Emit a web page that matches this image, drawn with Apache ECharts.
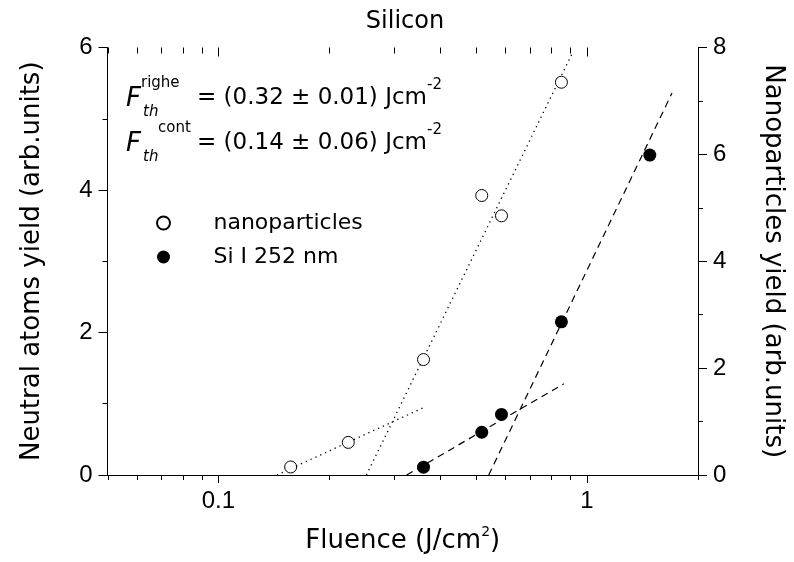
<!DOCTYPE html>
<html>
<head>
<meta charset="utf-8">
<script src="https://cdn.jsdelivr.net/npm/echarts@6/dist/echarts.min.js"></script>
<style>
  html, body { margin: 0; padding: 0; background: #fff; }
  #chart { width: 794px; height: 562px; }
</style>
</head>
<body>
<div id="chart"></div>
<script>
// Measured yields versus laser fluence (log scale)
const fluenceNano = [0.157, 0.225, 0.36, 0.518, 0.586, 0.852];
const yieldNano   = [0.15, 0.61, 2.16, 5.23, 4.85, 7.35];   // right axis
const fluenceSi   = [0.36, 0.518, 0.586, 0.852, 1.48];
const yieldSi     = [0.11, 0.60, 0.85, 2.15, 4.49];         // left axis

// Linear fits in log(fluence): end points of each fitted segment
const nanoFitLowX  = [0.144, 0.365];
const nanoFitLowY  = [0, 1.28];
const nanoFitHighX = [0.252, 0.91];
const nanoFitHighY = [0, 7.88];
const siFitLowX    = [0.324, 0.865];
const siFitLowY    = [0, 1.28];
const siFitHighX   = [0.541, 1.70];
const siFitHighY   = [0, 5.36];

// Axis ranges and tick values
const xRange = [0.05, 2];
const xMajorTicks = [0.1, 1];
const xMinorTicks = [0.05, 0.06, 0.07, 0.08, 0.09, 0.2, 0.3, 0.4, 0.5, 0.6, 0.7, 0.8, 0.9, 2];
const yLeftRange = [0, 6];
const yRightRange = [0, 8];
const yStep = 2;

const zip = (xs, ys) => xs.map((x, i) => [x, ys[i]]);

const LABEL_FONT = '"Liberation Sans", Arial, sans-serif';
const TEXT_FONT = '"DejaVu Sans", sans-serif';

const tickData = xMajorTicks.map(v => [v, 1]).concat(xMinorTicks.map(v => [v, 0]));

const chart = echarts.init(document.getElementById('chart'), null, { renderer: 'canvas' });

const formulaLine = (y, supName, supX, value) => [
  { type: 'text', x: 126, y: y + 1, style: { text: 'F', fontSize: 26, fontStyle: 'italic', fontFamily: TEXT_FONT, fill: '#000', verticalAlign: 'middle', textVerticalAlign: 'middle' } },
  { type: 'text', x: supX, y: y - 15, style: { text: supName, fontSize: 15, fontFamily: TEXT_FONT, fill: '#000', verticalAlign: 'middle', textVerticalAlign: 'middle' } },
  { type: 'text', x: 143, y: y + 14, style: { text: 'th', fontSize: 15, fontStyle: 'italic', fontFamily: TEXT_FONT, fill: '#000', verticalAlign: 'middle', textVerticalAlign: 'middle' } },
  { type: 'text', x: 197, y: y, style: {
      text: '{m|= (' + value + ') Jcm}{s|-2}',
      fontFamily: TEXT_FONT, fill: '#000', verticalAlign: 'middle', textVerticalAlign: 'middle',
      rich: {
        m: { fontSize: 23, lineHeight: 40, fontFamily: TEXT_FONT, color: '#000' },
        s: { fontSize: 15, lineHeight: 12, verticalAlign: 'top', fontFamily: TEXT_FONT, color: '#000' }
      }
  } }
];

const option = {
  backgroundColor: '#fff',
  animation: false,
  title: {
    text: 'Silicon',
    left: 400,
    textAlign: 'center',
    top: 5,
    textStyle: { fontSize: 24, fontWeight: 'normal', fontFamily: TEXT_FONT, color: '#000' }
  },
  grid: { left: 107.5, right: 92.5, top: 47.5, bottom: 80.3, containLabel: false },
  legend: {
    orient: 'vertical',
    left: 156,
    top: 211,
    padding: 0,
    itemWidth: 90,
    itemHeight: 13,
    itemGap: 10,
    data: ['nanoparticles', 'Si I 252 nm'],
    textStyle: { fontSize: 22, lineHeight: 24, fontFamily: TEXT_FONT, color: '#000' }
  },
  xAxis: [
    {
      type: 'log', logBase: 10, min: xRange[0], max: xRange[1], position: 'bottom',
      axisLine: { lineStyle: { color: '#000', width: 1 } },
      axisTick: { show: false },
      splitLine: { show: false },
      axisLabel: {
        fontSize: 24, fontFamily: LABEL_FONT, color: '#000', margin: 14,
        showMinLabel: false, showMaxLabel: false,
        formatter: v => String(+v.toPrecision(6))
      },
      name: 'Fluence (J/cm{sup|2})',
      nameLocation: 'middle',
      nameGap: 50,
      nameTextStyle: {
        fontSize: 26, fontFamily: TEXT_FONT, color: '#000', lineHeight: 32,
        rich: { sup: { fontSize: 14, lineHeight: 14, verticalAlign: 'top', fontFamily: TEXT_FONT, color: '#000' } }
      }
    },
    {
      type: 'log', logBase: 10, min: xRange[0], max: xRange[1], position: 'top',
      axisLine: { lineStyle: { color: '#000', width: 1 } },
      axisTick: { show: false }, axisLabel: { show: false }, splitLine: { show: false }
    }
  ],
  yAxis: [
    {
      type: 'value', position: 'left', min: yLeftRange[0], max: yLeftRange[1], interval: yStep,
      axisLine: { show: true, lineStyle: { color: '#000', width: 1 } },
      axisTick: { show: true, inside: false, length: 9, lineStyle: { color: '#000' } },
      minorTick: { show: true, splitNumber: 2, length: 5, lineStyle: { color: '#000' } },
      splitLine: { show: false },
      axisLabel: { fontSize: 24, fontFamily: LABEL_FONT, color: '#000', margin: 15 },
      name: 'Neutral atoms yield (arb.units)',
      nameLocation: 'middle', nameRotate: 90, nameGap: 62,
      nameTextStyle: { fontSize: 26, fontFamily: TEXT_FONT, color: '#000' }
    },
    {
      type: 'value', position: 'right', min: yRightRange[0], max: yRightRange[1], interval: yStep,
      axisLine: { show: true, lineStyle: { color: '#000', width: 1 } },
      axisTick: { show: true, inside: false, length: 9, lineStyle: { color: '#000' } },
      minorTick: { show: true, splitNumber: 2, length: 5, lineStyle: { color: '#000' } },
      splitLine: { show: false },
      axisLabel: { fontSize: 24, fontFamily: LABEL_FONT, color: '#000', margin: 15 },
      name: 'Nanoparticles yield (arb.units)',
      nameLocation: 'middle', nameRotate: -90, nameGap: 62,
      nameTextStyle: { fontSize: 26, fontFamily: TEXT_FONT, color: '#000' }
    }
  ],
  graphic: formulaLine(98, 'righe', 141, '0.32 ± 0.01').concat(formulaLine(143, 'cont', 158, '0.14 ± 0.06')),
  series: [
    // log-axis ticks: outward on the bottom frame, inward on the top frame
    {
      type: 'custom', name: 'ticks', xAxisIndex: 0, yAxisIndex: 0, silent: true, clip: false,
      data: tickData,
      renderItem: (params, api) => {
        const x = Math.round(api.coord([api.value(0), 0])[0]) + 0.5;
        const cs = params.coordSys;
        const len = api.value(1) ? 8 : 5;
        const yb = cs.y + cs.height, yt = cs.y;
        return {
          type: 'group',
          children: [
            { type: 'line', shape: { x1: x, y1: yb, x2: x, y2: yb + len }, style: { stroke: '#000', lineWidth: 1 } },
            { type: 'line', shape: { x1: x, y1: yt, x2: x, y2: yt + len + 1 }, style: { stroke: '#000', lineWidth: 1 } }
          ]
        };
      }
    },
    {
      type: 'line', name: 'nanoFitLow', xAxisIndex: 0, yAxisIndex: 1, data: zip(nanoFitLowX, nanoFitLowY),
      showSymbol: false, silent: true, lineStyle: { color: '#000', width: 1.3, type: [1.3, 4] }
    },
    {
      type: 'line', name: 'nanoFitHigh', xAxisIndex: 0, yAxisIndex: 1, data: zip(nanoFitHighX, nanoFitHighY),
      showSymbol: false, silent: true, lineStyle: { color: '#000', width: 1.3, type: [1.3, 4] }
    },
    {
      type: 'line', name: 'siFitLow', xAxisIndex: 0, yAxisIndex: 0, data: zip(siFitLowX, siFitLowY),
      showSymbol: false, silent: true, lineStyle: { color: '#000', width: 1.2, type: [7, 5] }
    },
    {
      type: 'line', name: 'siFitHigh', xAxisIndex: 0, yAxisIndex: 0, data: zip(siFitHighX, siFitHighY),
      showSymbol: false, silent: true, lineStyle: { color: '#000', width: 1.2, type: [7, 5] }
    },
    {
      type: 'scatter', name: 'nanoparticles', xAxisIndex: 0, yAxisIndex: 1,
      data: zip(fluenceNano, yieldNano), symbol: 'circle', symbolSize: 12, z: 5,
      itemStyle: { color: '#fff', borderColor: '#000', borderWidth: 1, opacity: 1 }
    },
    {
      type: 'scatter', name: 'Si I 252 nm', xAxisIndex: 0, yAxisIndex: 0,
      data: zip(fluenceSi, yieldSi), symbol: 'circle', symbolSize: 13, z: 5,
      itemStyle: { color: '#000', opacity: 1 }
    }
  ]
};

chart.setOption(option);
</script>
</body>
</html>
